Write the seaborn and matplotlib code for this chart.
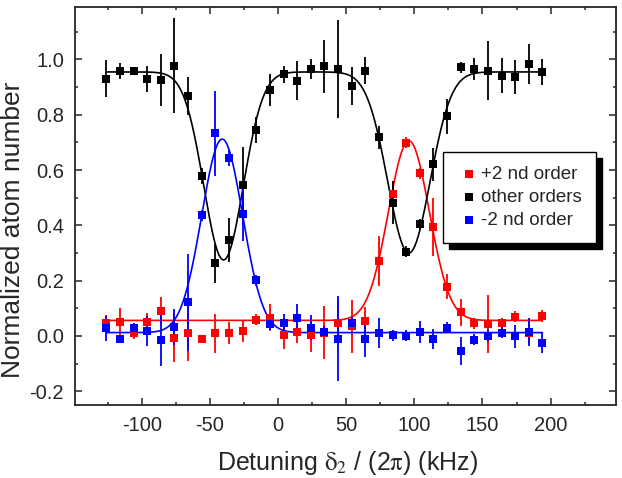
import numpy as np
import pandas as pd
import matplotlib
matplotlib.use('Agg')
import matplotlib.pyplot as plt
import seaborn as sns
from matplotlib.ticker import MultipleLocator

# detuning of each shot (kHz)
detuning = [-126, -116, -106, -96, -86, -76, -66, -56, -46, -36, -26, -16, -6, 4, 14, 24, 34,
            44, 54, 64, 74, 84, 94, 104, 114, 124, 134, 144, 154, 164, 174, 184, 194]

# +2 nd order
red = [0.046, 0.052, 0.010, 0.052, 0.090, -0.006, 0.010, -0.012, 0.009, 0.010, 0.018, 0.058,
       0.066, 0.003, 0.015, 0.003, 0.012, 0.046, 0.035, 0.054, 0.271, 0.512, 0.699, 0.588,
       0.395, 0.178, 0.085, 0.046, 0.042, 0.046, 0.070, 0.009, 0.072]
red_err = [0.03, 0.05, 0.02, 0.03, 0.05, 0.09, 0.10, 0.015, 0.072, 0.04, 0.04, 0.02, 0.05,
           0.05, 0.04, 0.063, 0.096, 0.08, 0.096, 0.05, 0.09, 0.05, 0.02, 0.02, 0.105, 0.045,
           0.05, 0.02, 0.105, 0.02, 0.02, 0.04, 0.02]

# other orders
black = [0.930, 0.960, 0.960, 0.930, 0.925, 0.978, 0.867, 0.578, 0.262, 0.347, 0.545, 0.745,
         0.889, 0.946, 0.924, 0.966, 0.976, 0.966, 0.904, 0.960, 0.719, 0.482, 0.304, 0.404,
         0.621, 0.795, 0.972, 0.966, 0.960, 0.942, 0.936, 0.984, 0.954]
black_err = [0.067, 0.029, 0.012, 0.048, 0.095, 0.173, 0.069, 0.03, 0.07, 0.08, 0.14, 0.047,
             0.057, 0.03, 0.072, 0.036, 0.096, 0.178, 0.068, 0.05, 0.042, 0.078, 0.02, 0.02,
             0.06, 0.063, 0.02, 0.041, 0.108, 0.063, 0.061, 0.071, 0.047]

# -2 nd order
blue = [0.028, -0.010, 0.028, 0.018, -0.016, 0.033, 0.121, 0.436, 0.733, 0.643, 0.441, 0.201,
        0.042, 0.048, 0.066, 0.030, 0.015, -0.010, 0.048, -0.010, 0.012, 0.003, 0.0, 0.015,
        -0.012, 0.030, -0.054, -0.014, 0.0, 0.012, -0.002, 0.015, -0.026]
blue_err = [0.045, 0.015, 0.02, 0.054, 0.093, 0.066, 0.175, 0.02, 0.154, 0.03, 0.098, 0.02,
            0.02, 0.03, 0.05, 0.045, 0.02, 0.154, 0.02, 0.066, 0.054, 0.02, 0.02, 0.04, 0.036,
            0.02, 0.051, 0.02, 0.02, 0.02, 0.04, 0.05, 0.036]

# gaussian fit parameters: offset, (amplitude, centre, sigma) per peak
red_fit = (0.056, [(0.65, 96, 15)])
blue_fit = (0.012, [(0.70, -41, 15)])
black_fit = (0.955, [(-0.68, -40, 14.5), (-0.655, 96, 15.5)])

labels = ['+2 nd order', 'other orders', '-2 nd order']


def gauss_model(x, params):
    offset, peaks = params
    y = np.full_like(x, offset)
    for a, c, s in peaks:
        y = y + a * np.exp(-(x - c) ** 2 / (2 * s ** 2))
    return y


df = pd.DataFrame({'detuning': detuning, 'red': red, 'black': black, 'blue': blue})
xfit = np.linspace(min(detuning), max(detuning), 500)
fit_df = pd.DataFrame({'x': xfit,
                       'red': gauss_model(xfit, red_fit),
                       'black': gauss_model(xfit, black_fit),
                       'blue': gauss_model(xfit, blue_fit)})

sns.set_style('ticks')
plt.rcParams['font.family'] = ['Liberation Sans', 'DejaVu Sans']
plt.rcParams['mathtext.fontset'] = 'stix'
plt.rcParams['axes.unicode_minus'] = False

fig, ax = plt.subplots(figsize=(6.22, 4.78), dpi=100)
fig.subplots_adjust(left=0.1206, right=0.9904, bottom=0.1527, top=0.9854)

series = [('red', red_err, 'red'), ('black', black_err, 'black'), ('blue', blue_err, 'blue')]
handles = []
for (col, err, color), lab in zip(series, labels):
    sns.lineplot(data=fit_df, x='x', y=col, color=color, linewidth=1.2, ax=ax)
    ax.errorbar(df['detuning'], df[col], yerr=err, fmt='none', ecolor=color,
                elinewidth=1.3, capsize=0)
    sc = ax.scatter(df['detuning'], df[col], marker='s', s=34, color=color,
                    linewidths=0, label=lab, zorder=3)
    handles.append(sc)

ax.set_xlim(-149, 248)
ax.set_ylim(-0.25, 1.19)
ax.xaxis.set_major_locator(MultipleLocator(50))
ax.xaxis.set_minor_locator(MultipleLocator(25))
ax.yaxis.set_major_locator(MultipleLocator(0.2))
ax.yaxis.set_minor_locator(MultipleLocator(0.1))
ax.tick_params(which='both', direction='in', top=True, right=True, width=1.1,
               labelsize=14.5, pad=8)
ax.tick_params(which='major', length=5)
ax.tick_params(which='minor', length=2.5)
for sp in ax.spines.values():
    sp.set_linewidth(1.3)

ax.set_xlabel(r'Detuning $\mathrm{\delta_2}$ / (2$\mathrm{\pi}$) (kHz)', fontsize=18)
ax.xaxis.set_label_coords(0.504, -0.11)
ax.set_ylabel('Normalized atom number', fontsize=19)
ax.yaxis.set_label_coords(-0.093, 0.44)

leg = ax.legend(handles=handles, labels=labels, loc='upper left',
                bbox_to_anchor=(0.680, 0.636), fontsize=13.5, frameon=True,
                fancybox=False, borderpad=0.75, borderaxespad=0, handlelength=1.3,
                handletextpad=0.0, labelspacing=0.3,
                shadow={'ox': 4.5, 'oy': -4.5, 'facecolor': 'black',
                        'edgecolor': 'black', 'alpha': 1.0})
leg.get_frame().set_edgecolor('black')
leg.get_frame().set_linewidth(1.0)

plt.savefig('out.png', dpi=100)
plt.close()
